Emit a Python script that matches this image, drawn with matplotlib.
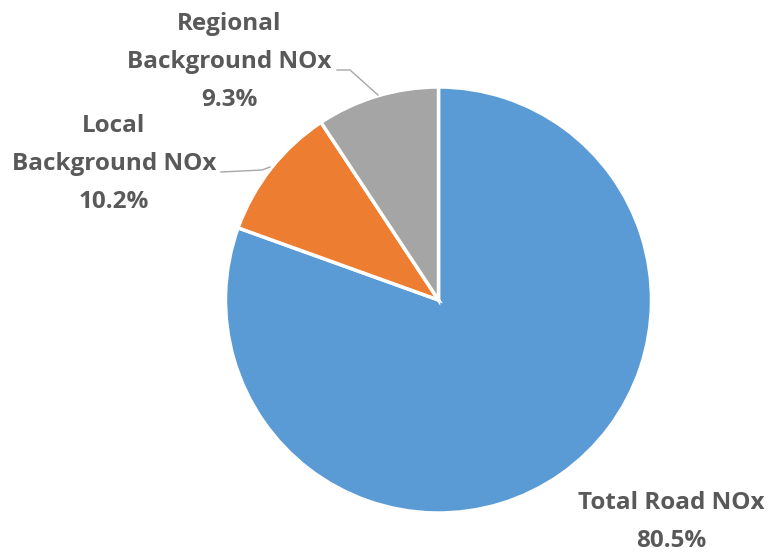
import matplotlib.pyplot as plt

# NOx source apportionment
labels = ["Total Road NOx", "Local\nBackground NOx", "Regional\nBackground NOx"]
shares = [80.5, 10.2, 9.3]
colors = ["#5B9BD5", "#ED7D31", "#A5A5A5"]

W, H = 772, 553
fig = plt.figure(figsize=(W / 100, H / 100), dpi=100)
ax = fig.add_axes([0, 0, 1, 1])

cx, cy, r = 438.5, H - 300, 213
ax.pie(shares, colors=colors, startangle=90, counterclock=False,
       center=(cx, cy), radius=r, frame=True,
       wedgeprops=dict(edgecolor="white", linewidth=2.5))
ax.set_xlim(0, W)
ax.set_ylim(0, H)
ax.set_aspect("equal")
ax.axis("off")

txt = dict(ha="center", va="center", fontsize=17.5, fontweight="bold",
           color="#595959", family=["Open Sans", "DejaVu Sans"], linespacing=1.75)

# label positions (pixels from top-left)
label_pos = [(671, 522), (114, 164), (229, 62)]
for lab, val, (x, y) in zip(labels, shares, label_pos):
    ax.text(x, H - y, f"{lab}\n{val}%", **txt)

# leader lines
ax.plot([337, 350, 378], [H - 70, H - 70, H - 95], color="#A6A6A6", lw=1)
ax.plot([221, 262, 270], [H - 172, H - 170, H - 167], color="#A6A6A6", lw=1)

fig.savefig("out.png", dpi=100)
